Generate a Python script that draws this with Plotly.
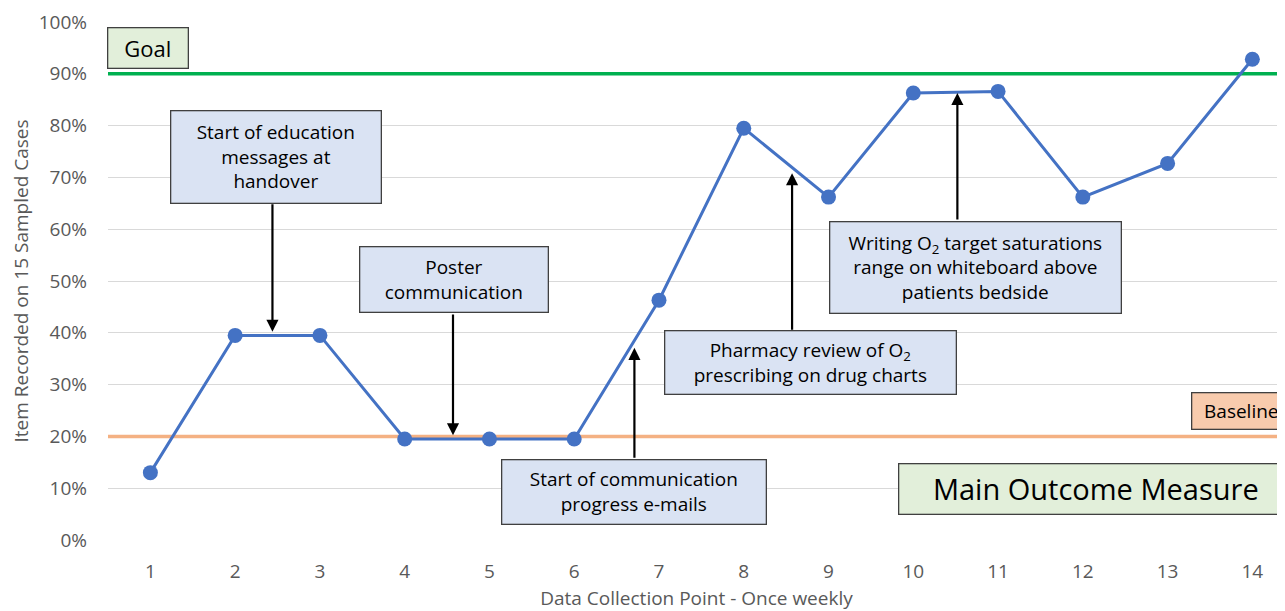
import plotly.graph_objects as go

weeks = list(range(1, 15))
recorded = [0.13, 0.395, 0.395, 0.195, 0.195, 0.195, 0.463, 0.795, 0.662, 0.863, 0.866, 0.662, 0.727, 0.928]
goal = 0.90
baseline = 0.20
y_ticks = [0, 0.1, 0.2, 0.3, 0.4, 0.5, 0.6, 0.7, 0.8, 0.9, 1.0]
x_range = [0.5, 14.385]

FONT = "Open Sans"
TXT = "#000000"
BOX_BLUE = "#dae3f3"
BOX_GREEN = "#e2efda"
BOX_ORANGE = "#f8cbad"
BORDER = "#404040"
AXIS_GREY = "#595959"

fig = go.Figure()

# reference lines (drawn first so the data line sits on top)
fig.add_trace(go.Scatter(x=x_range, y=[baseline, baseline], mode="lines",
                         line=dict(color="#f4b183", width=3.5),
                         showlegend=False, hoverinfo="skip"))
fig.add_trace(go.Scatter(x=x_range, y=[goal, goal], mode="lines",
                         line=dict(color="#00b050", width=3.5),
                         showlegend=False, hoverinfo="skip"))

fig.add_trace(go.Scatter(x=weeks, y=recorded, mode="lines+markers",
                         line=dict(color="#4472c4", width=3),
                         marker=dict(color="#4472c4", size=15),
                         showlegend=False, hoverinfo="skip", cliponaxis=False))

boxes = [
    # text, x, y, width, height, bg, size
    ("Start of education<br>messages at<br>handover", 2.48, 0.740, 209, 91, BOX_BLUE, 19),
    ("Poster<br>communication", 4.58, 0.502, 187, 64, BOX_BLUE, 19),
    ("Start of communication<br>progress e-mails", 6.70, 0.0936, 263, 63, BOX_BLUE, 19),
    ("Pharmacy review of O<sub>2</sub><br>prescribing on drug charts", 8.79, 0.342, 290, 62, BOX_BLUE, 19),
    ("Writing O<sub>2</sub> target saturations<br>range on whiteboard above<br>patients bedside", 10.73, 0.527, 290, 90, BOX_BLUE, 19),
    ("Goal", 0.97, 0.949, 79, 39, BOX_GREEN, 22),
    ("Baseline", 13.87, 0.25, 98, 35, BOX_ORANGE, 19),
    ("Main Outcome Measure", 12.16, 0.0994, 393, 49, BOX_GREEN, 29),
]
for text, x, y, w, h, bg, size in boxes:
    fig.add_annotation(x=x, y=y, xref="x", yref="y", text=text, showarrow=False,
                       width=w, height=h, bgcolor=bg, bordercolor=BORDER, borderwidth=1.3,
                       borderpad=0, align="center", valign="middle",
                       font=dict(family=FONT, size=size, color=TXT))

arrows = [
    # x, tail y, head y
    (2.44, 0.651, 0.402),
    (4.57, 0.438, 0.202),
    (6.71, 0.156, 0.371),
    (8.57, 0.403, 0.708),
    (10.52, 0.616, 0.863),
]
for x, y0, y1 in arrows:
    fig.add_annotation(x=x, y=y1, ax=x, ay=y0, xref="x", yref="y", axref="x", ayref="y",
                       text="", showarrow=True, arrowhead=2, arrowsize=1.1,
                       arrowwidth=2.2, arrowcolor="#000000", standoff=0)

# The page body adds an 8px offset; the figure is sized to compensate.
fig.update_layout(
    width=1277, height=603,
    margin=dict(l=99.6, r=0, t=14, b=71),
    paper_bgcolor="white", plot_bgcolor="white",
    font=dict(family=FONT, color=AXIS_GREY),
    xaxis=dict(range=x_range, tickvals=weeks, ticktext=[str(w) for w in weeks],
               showgrid=False, zeroline=False, showline=False, ticks="",
               ticklabelstandoff=18,
               tickfont=dict(size=19, color=AXIS_GREY),
               title=dict(text="Data Collection Point - Once weekly", standoff=10,
                          font=dict(size=19, color=AXIS_GREY))),
    yaxis=dict(range=[0, 1.0], tickvals=y_ticks, tickformat=".0%",
               showgrid=True, gridcolor="#d9d9d9", gridwidth=1, zeroline=False,
               showline=False, ticks="", ticklen=0, ticklabelstandoff=20,
               tickfont=dict(size=19, color=AXIS_GREY),
               title=dict(text="Item Recorded on 15 Sampled Cases", standoff=8,
                          font=dict(size=19, color=AXIS_GREY))),
)

fig.write_html("out.html")
